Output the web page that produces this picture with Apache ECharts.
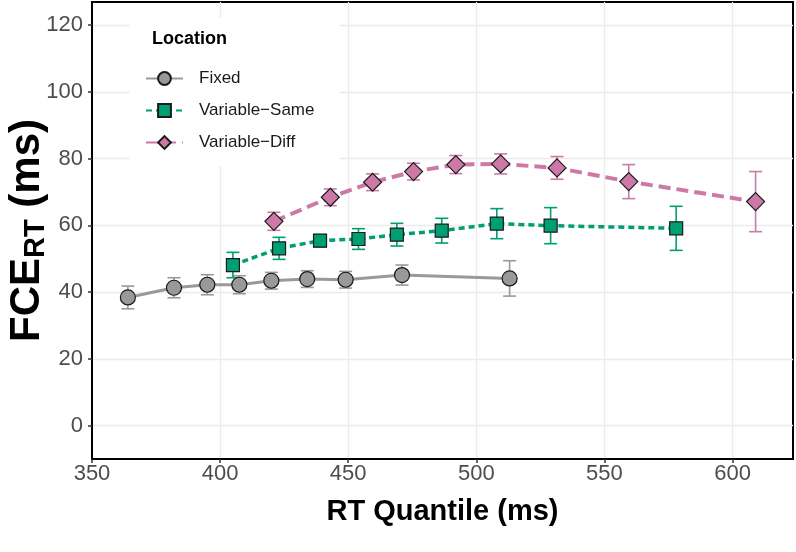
<!DOCTYPE html>
<html><head><meta charset="utf-8">
<script src="https://cdn.jsdelivr.net/npm/echarts@6/dist/echarts.min.js"></script>
<style>html,body{margin:0;padding:0;background:#fff}#c{width:796px;height:552px}</style>
</head><body><div id="c"></div>
<script>
// ---- data ----
const seriesNames = ['Fixed', 'Variable\u2212Same', 'Variable\u2212Diff'];
const fixedX = [364, 382, 395, 407.5, 420, 434, 449, 471, 513];
const fixedY = [38.4, 41.3, 42.2, 42.2, 43.4, 43.9, 43.7, 45.1, 44.1];
const fixedErr = [3.4, 3.0, 3.0, 2.7, 2.5, 2.5, 2.5, 3.0, 5.3];
const sameX = [405, 423, 439, 454, 469, 486.5, 508, 529, 578];
const sameY = [48.1, 53.1, 55.4, 55.9, 57.2, 58.4, 60.5, 59.9, 59.1];
const sameErr = [3.8, 3.3, 1.8, 3.1, 3.4, 3.7, 4.5, 5.4, 6.6];
const diffX = [421, 443, 459.5, 475.5, 492, 509.5, 531.5, 559.5, 609];
const diffY = [61.2, 68.4, 72.9, 76.1, 78.2, 78.4, 77.2, 73.1, 67.1];
const diffErr = [2.7, 2.5, 2.5, 2.5, 2.7, 3.0, 3.4, 5.1, 9.0];
const xTicks = [350, 400, 450, 500, 550, 600];
const yTicks = [0, 20, 40, 60, 80, 100, 120];

const FONT = 'Liberation Sans, Arial, Helvetica, sans-serif';
const colors = ['#999999', '#009E73', '#CC79A7'];

function pts(xs, ys) { return xs.map((x, i) => [x, ys[i]]); }
function errSeries(name, xs, ys, es, color) {
  return {
    type: 'custom', name: name, silent: true, z: 2,
    data: xs.map((x, i) => [x, ys[i] - es[i], ys[i] + es[i]]),
    encode: { x: 0, y: [1, 2] },
    renderItem: function (params, api) {
      const x = api.value(0);
      const lo = api.coord([x, api.value(1)]);
      const hi = api.coord([x, api.value(2)]);
      const w = 6.5;
      const st = { stroke: color, lineWidth: 1.6 };
      return { type: 'group', children: [
        { type: 'line', shape: { x1: lo[0], y1: lo[1], x2: hi[0], y2: hi[1] }, style: st },
        { type: 'line', shape: { x1: lo[0] - w, y1: lo[1], x2: lo[0] + w, y2: lo[1] }, style: st },
        { type: 'line', shape: { x1: hi[0] - w, y1: hi[1], x2: hi[0] + w, y2: hi[1] }, style: st }
      ]};
    }
  };
}
function lineSeries(name, xs, ys, color, symbol, size, lw, dash) {
  return {
    type: 'line', name: name, data: pts(xs, ys), z: 3,
    symbol: symbol, symbolSize: size, showAllSymbol: true,
    itemStyle: { color: color, borderColor: '#1a1a1a', borderWidth: 1.2 },
    lineStyle: { color: color, width: lw, type: dash },
    emphasis: { disabled: true }
  };
}

const chart = echarts.init(document.getElementById('c'));
chart.setOption({
  animation: false,
  textStyle: { fontFamily: FONT },
  grid: { left: 92, right: 3, top: 2, bottom: 93, containLabel: false, outerBoundsMode: 'none',
          show: true, borderColor: '#000', borderWidth: 2, backgroundColor: 'transparent' },
  title: { text: 'Location', left: 152, top: 30, padding: 0, textStyle: { fontSize: 18, fontWeight: 'bold', color: '#000', fontFamily: FONT } },
  legend: {
    orient: 'vertical', left: 145, top: 70, padding: 0, itemWidth: 37, itemHeight: 16, itemGap: 15,
    data: seriesNames, selectedMode: false,
    textStyle: { fontSize: 17, color: '#1a1a1a', padding: [0, 0, 0, 11], fontFamily: FONT }
  },
  graphic: [{ type: 'rect', left: 130, top: 18, z: 1, shape: { width: 210, height: 148 }, style: { fill: '#fff' } }],
  xAxis: {
    type: 'value', min: 350, max: 623.6, interval: 25,
    name: 'RT Quantile (ms)', nameLocation: 'middle', nameGap: 38, nameMoveOverlap: false,
    nameTextStyle: { fontSize: 29, fontWeight: 'bold', color: '#000', fontFamily: FONT },
    axisLine: { show: true, onZero: false, lineStyle: { color: '#000', width: 2 } },
    axisTick: { show: true, customValues: xTicks, length: 4, lineStyle: { color: '#333', width: 1.5 } },
    axisLabel: { customValues: xTicks, fontSize: 22, color: '#4D4D4D', margin: 4 },
    splitLine: { show: true, lineStyle: { color: '#EBEBEB', width: 1.3 } }
  },
  yAxis: {
    type: 'value', min: -10, max: 126.9, interval: 10,
    name: '{a|FCE}{b|RT}{a| (ms)}', nameLocation: 'middle', nameRotate: 90, nameGap: 42, nameMoveOverlap: false,
    nameTextStyle: { rich: {
      a: { fontSize: 42, fontWeight: 'bold', color: '#000', lineHeight: 46, verticalAlign: 'middle', fontFamily: FONT },
      b: { fontSize: 29, fontWeight: 'bold', color: '#000', lineHeight: 29, verticalAlign: 'bottom', fontFamily: FONT }
    } },
    axisLine: { show: true, onZero: false, lineStyle: { color: '#000', width: 2 } },
    axisTick: { show: true, customValues: yTicks, length: 4, lineStyle: { color: '#333', width: 1.5 } },
    axisLabel: { customValues: yTicks, fontSize: 22, color: '#4D4D4D', margin: 9 },
    splitLine: { show: true, lineStyle: { color: '#EBEBEB', width: 1.3 } }
  },
  series: [
    errSeries('e1', fixedX, fixedY, fixedErr, colors[0]),
    errSeries('e2', sameX, sameY, sameErr, colors[1]),
    errSeries('e3', diffX, diffY, diffErr, colors[2]),
    lineSeries(seriesNames[0], fixedX, fixedY, colors[0], 'circle', 15, 3, 'solid'),
    lineSeries(seriesNames[1], sameX, sameY, colors[1], 'rect', 13, 3.5, [6, 4]),
    lineSeries(seriesNames[2], diffX, diffY, colors[2], 'diamond', 18, 4, [12, 6])
  ]
});
</script>
</body></html>
